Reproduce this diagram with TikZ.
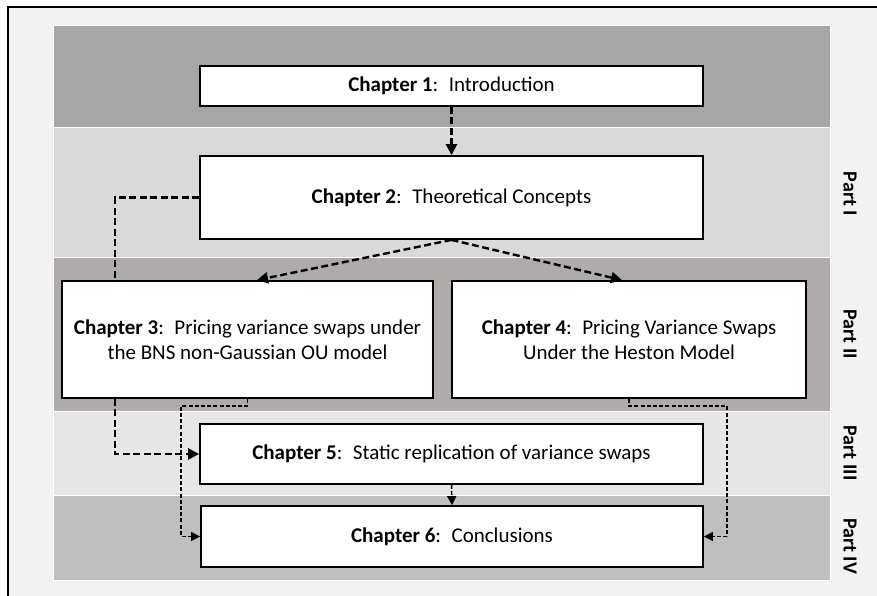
\documentclass[tikz,border=0pt]{standalone}
\usepackage{fontspec}
\setmainfont{Carlito}
\usetikzlibrary{arrows.meta}
\definecolor{bgc}{HTML}{F2F2F2}
\definecolor{bandA}{HTML}{A6A6A6}
\definecolor{bandB}{HTML}{D9D9D9}
\definecolor{bandC}{HTML}{AFABAB}
\definecolor{bandD}{HTML}{E7E6E6}
\definecolor{bandE}{HTML}{BFBFBF}
\tikzset{
  chbox/.style={draw=black, line width=1.8pt, fill=white, rectangle, inner sep=2pt, align=center,
    font=\fontsize{21}{25}\selectfont},
  band/.style={draw=white, line width=0.8pt},
  partlbl/.style={rotate=-90, font=\fontsize{20}{24}\selectfont\bfseries},
  thickarr/.style={line width=2.4pt, dash pattern=on 7pt off 3.5pt, -{Triangle[length=11pt,width=11pt]}},
  thickln/.style={line width=2.4pt, dash pattern=on 7pt off 3.5pt},
  thinarr/.style={line width=1.5pt, dash pattern=on 4pt off 2.2pt, -{Triangle[length=9pt,width=9pt]}},
}
\begin{document}
\begin{tikzpicture}[x=1pt,y=-1pt]
\useasboundingbox (0,0) rectangle (877,596);
\fill[white] (0,0) rectangle (877,596);
\fill[bgc] (8,7) rectangle (877,596);
\draw[line width=1.5pt] (8,596) -- (8,7) -- (877,7);
% bands
\filldraw[band, fill=bandA] (53,25) rectangle (830,127.5);
\filldraw[band, fill=bandB] (53,127.5) rectangle (830,257);
\filldraw[band, fill=bandC] (53,257) rectangle (830,411.5);
\filldraw[band, fill=bandD] (53,411.5) rectangle (830,495.5);
\filldraw[band, fill=bandE] (53,495.5) rectangle (830,580);
% part labels
\node[partlbl] (p1) at (850,194) {Part I};
\node[partlbl] (p2) at (850,334) {Part II};
\node[partlbl] (p3) at (850,453) {Part III};
\node[partlbl] (p4) at (850,546) {Part IV};
% boxes
\node[chbox, minimum width=503pt, minimum height=40pt] (ch1) at (451.5,86) {\textbf{Chapter 1}:\hspace{0.5em}Introduction};
\node[chbox, minimum width=503pt, minimum height=83pt] (ch2) at (451.5,197.5) {\textbf{Chapter 2}:\hspace{0.5em}Theoretical Concepts};
\node[chbox, minimum width=371pt, minimum height=117pt] (ch3) at (247.5,339.5) {\textbf{Chapter 3}:\hspace{0.5em}Pricing variance swaps under\\the BNS non-Gaussian OU model};
\node[chbox, minimum width=354pt, minimum height=117pt] (ch4) at (629,339.5) {\textbf{Chapter 4}:\hspace{0.5em}Pricing Variance Swaps\\Under the Heston Model};
\node[chbox, minimum width=503pt, minimum height=60pt] (ch5) at (451.5,454) {\textbf{Chapter 5}:\hspace{0.5em}Static replication of variance swaps};
\node[chbox, minimum width=502pt, minimum height=61pt] (ch6) at (452,536.5) {\textbf{Chapter 6}:\hspace{0.5em}Conclusions};
% helper coordinates
\coordinate (c3a) at (181,406);
\coordinate (c4a) at (727,406);
% connectors
\draw[thickarr] (ch1.south) -- (ch2.north);
\draw[thickarr] (ch2.south) -- ([xshift=9.5pt]ch3.north);
\draw[thickarr] (ch2.south) -- ([xshift=-7pt]ch4.north);
\draw[thickln] (ch2.west) -| ([xshift=-132.5pt]ch3.north);
\draw[thickarr] ([xshift=-132.5pt]ch3.south) |- (ch5.west);
\draw[thinarr] (ch3.south) |- (c3a) |- (ch6.west);
\draw[thinarr] (ch4.south) |- (c4a) |- (ch6.east);
\draw[thinarr] (ch5.south) -- (ch6.north);
\end{tikzpicture}
\end{document}
